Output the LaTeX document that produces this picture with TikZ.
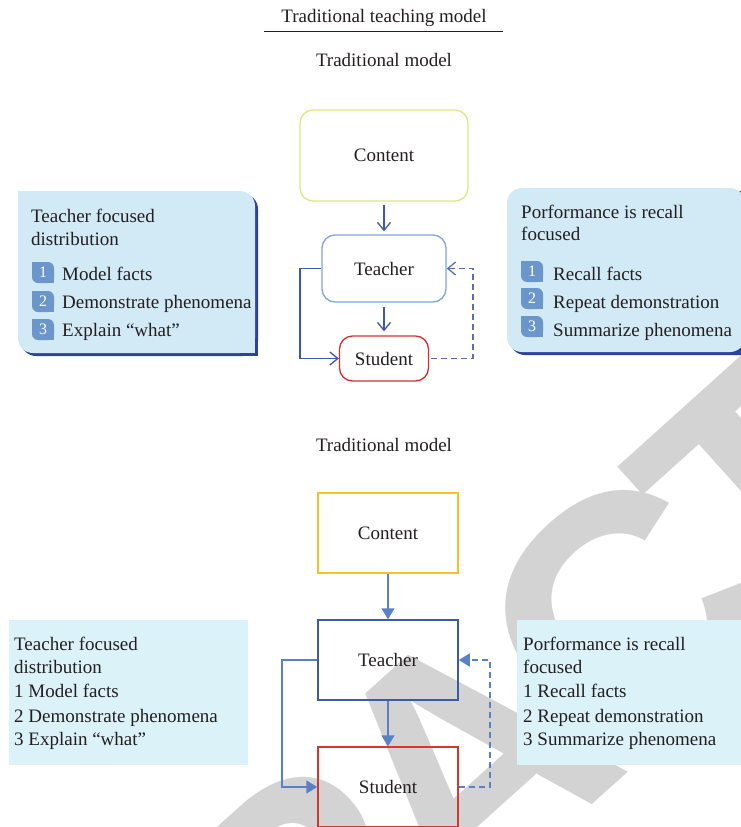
\documentclass[tikz,border=0pt]{standalone}
\usepackage{fontspec}
\setmainfont{Liberation Serif}
\newfontfamily\wmfont[LetterSpace=-9]{Liberation Sans Bold}
\usetikzlibrary{arrows.meta}
\definecolor{txt}{HTML}{231F20}
\definecolor{wmgray}{HTML}{D3D3D3}
\definecolor{boxtop}{HTML}{D1EAF6}
\definecolor{boxbot}{HTML}{DAF2F8}
\definecolor{shadowblue}{HTML}{2E429A}
\definecolor{badge}{HTML}{6B96CC}
\definecolor{contA}{HTML}{DDE77F}
\definecolor{teachA}{HTML}{7EA6DC}
\definecolor{studA}{HTML}{D42F2F}
\definecolor{lineA}{HTML}{4058A8}
\definecolor{dashA}{HTML}{5A6FB3}
\definecolor{contB}{HTML}{FBBF2C}
\definecolor{teachB}{HTML}{3D5BA9}
\definecolor{studB}{HTML}{D2382E}
\definecolor{lineB}{HTML}{5A80C6}
\tikzset{
  every node/.style={text=txt, font=\fontsize{19}{22}\selectfont},
  lbl/.style={anchor=base west, inner sep=0pt},
  ctr/.style={anchor=base, inner sep=0pt},
  roundbox/.style={draw, rounded corners=13pt, line width=1.3pt},
  sqbox/.style={draw, line width=1.5pt, minimum width=140pt, minimum height=80pt},
  conA/.style={draw=lineA, line width=1.3pt, -{Straight Barb[length=8pt,width=13pt]}},
  dconA/.style={conA, draw=dashA, dash pattern=on 6pt off 4pt},
  conB/.style={draw=lineB, line width=1.5pt, -{Triangle[length=11pt,width=13pt]}},
  dconB/.style={conB, dash pattern=on 6pt off 4pt},
  badgenum/.style={text=white, font=\fontsize{16}{18}\selectfont, inner sep=0pt}
}
\newcommand{\badgebox}[2]{%
  \fill[badge, rounded corners=6pt] (#1,#2) rectangle ++(22,21);
  \fill[badge] (#1,#2) rectangle ++(8,8);
  \fill[badge] (#1+14,#2+13) rectangle ++(8,8);
}
\begin{document}
\begin{tikzpicture}[x=1pt,y=-1pt]
\useasboundingbox (0,0) rectangle (741,827);
% watermark
\begin{scope}
\clip (0,0) rectangle (741,827);
\node[text=wmgray, rotate=42, inner sep=0pt, font=\wmfont\fontsize{340}{340}\selectfont] (wm) at (465,762) {RETRACTED};
\end{scope}

% title
\node[ctr] (title) at (384,23) {Traditional teaching model};
\coordinate (ulA) at (264,31);
\coordinate (ulB) at (503,31);
\draw[line width=1pt, txt] (ulA) -- (ulB);
\node[ctr] (sub1) at (384,66) {Traditional model};

% top left box
\fill[shadowblue, rounded corners=15pt] (21,194) rectangle (258,356);
\fill[shadowblue] (236,334) rectangle (258,356);
\fill[boxtop, rounded corners=15pt] (18,191) rectangle (255,353);
\fill[boxtop] (18,191) rectangle (40,213);
\fill[boxtop] (233,331) rectangle (255,353);
\node[lbl] (tl1) at (31,222) {Teacher focused};
\node[lbl] (tl2) at (31,245) {distribution};
\badgebox{32}{262}
\badgebox{32}{291}
\badgebox{32}{319}
\node[badgenum] (bl1) at (43,272) {1};
\node[badgenum] (bl2) at (43,301) {2};
\node[badgenum] (bl3) at (43,329) {3};
\node[lbl] (tl3) at (62,280) {Model facts};
\node[lbl] (tl4) at (62,308) {Demonstrate phenomena};
\node[lbl] (tl5) at (62,336) {Explain “what”};

% top right box
\fill[shadowblue, rounded corners=15pt] (510,191) rectangle (760,355);
\fill[boxtop, rounded corners=15pt] (507,188) rectangle (745,352);
\node[lbl] (tr1) at (521,218) {Porformance is recall};
\node[lbl] (tr2) at (521,240) {focused};
\badgebox{521}{261}
\badgebox{521}{288}
\badgebox{521}{316}
\node[badgenum] (br1) at (532,271) {1};
\node[badgenum] (br2) at (532,298) {2};
\node[badgenum] (br3) at (532,326) {3};
\node[lbl] (tr3) at (553,280) {Recall facts};
\node[lbl] (tr4) at (553,308) {Repeat demonstration};
\node[lbl] (tr5) at (553,336) {Summarize phenomena};

% top diagram
\node[roundbox, draw=contA, minimum width=168pt, minimum height=91pt] (c1) at (384,155.5) {Content};
\node[roundbox, draw=teachA, minimum width=124pt, minimum height=67pt] (t1) at (384,268.5) {Teacher};
\node[roundbox, draw=studA, minimum width=89pt, minimum height=45pt] (s1) at (384,358.5) {Student};
\draw[conA] ([yshift=-3pt]c1.south) -- ([yshift=3pt]t1.north);
\draw[conA] ([yshift=-4pt]t1.south) -- ([yshift=4pt]s1.north);
\coordinate (l1) at (300,268.5);
\draw[conA] (t1.west) -- (l1) |- (s1.west);
\coordinate (d1) at (473,268.5);
\draw[dconA] ([xshift=2pt]s1.east) -| (d1) -- (t1.east);

% bottom
\node[ctr] (sub2) at (384,451) {Traditional model};

\fill[boxbot] (9,620) rectangle (248,765);
\node[lbl] (bl1t) at (14,650) {Teacher focused};
\node[lbl] (bl2t) at (14,673) {distribution};
\node[lbl] (bl3t) at (14,697) {1 Model facts};
\node[lbl] (bl4t) at (14,722) {2 Demonstrate phenomena};
\node[lbl] (bl5t) at (14,745) {3 Explain “what”};

\fill[boxbot] (517,620) rectangle (741,765);
\node[lbl] (br1t) at (523,650) {Porformance is recall};
\node[lbl] (br2t) at (523,673) {focused};
\node[lbl] (br3t) at (523,697) {1 Recall facts};
\node[lbl] (br4t) at (523,722) {2 Repeat demonstration};
\node[lbl] (br5t) at (523,745) {3 Summarize phenomena};

\node[sqbox, draw=contB] (c2) at (388,533) {Content};
\node[sqbox, draw=teachB] (t2) at (388,660) {Teacher};
\node[sqbox, draw=studB] (s2) at (388,787) {Student};
\draw[conB] (c2) -- (t2);
\draw[conB] (t2) -- (s2);
\coordinate (l2) at (282,660);
\draw[conB] (t2.west) -- (l2) |- (s2.west);
\coordinate (d2) at (490,660);
\draw[dconB] (s2.east) -| (d2) -- (t2.east);
\end{tikzpicture}
\end{document}
